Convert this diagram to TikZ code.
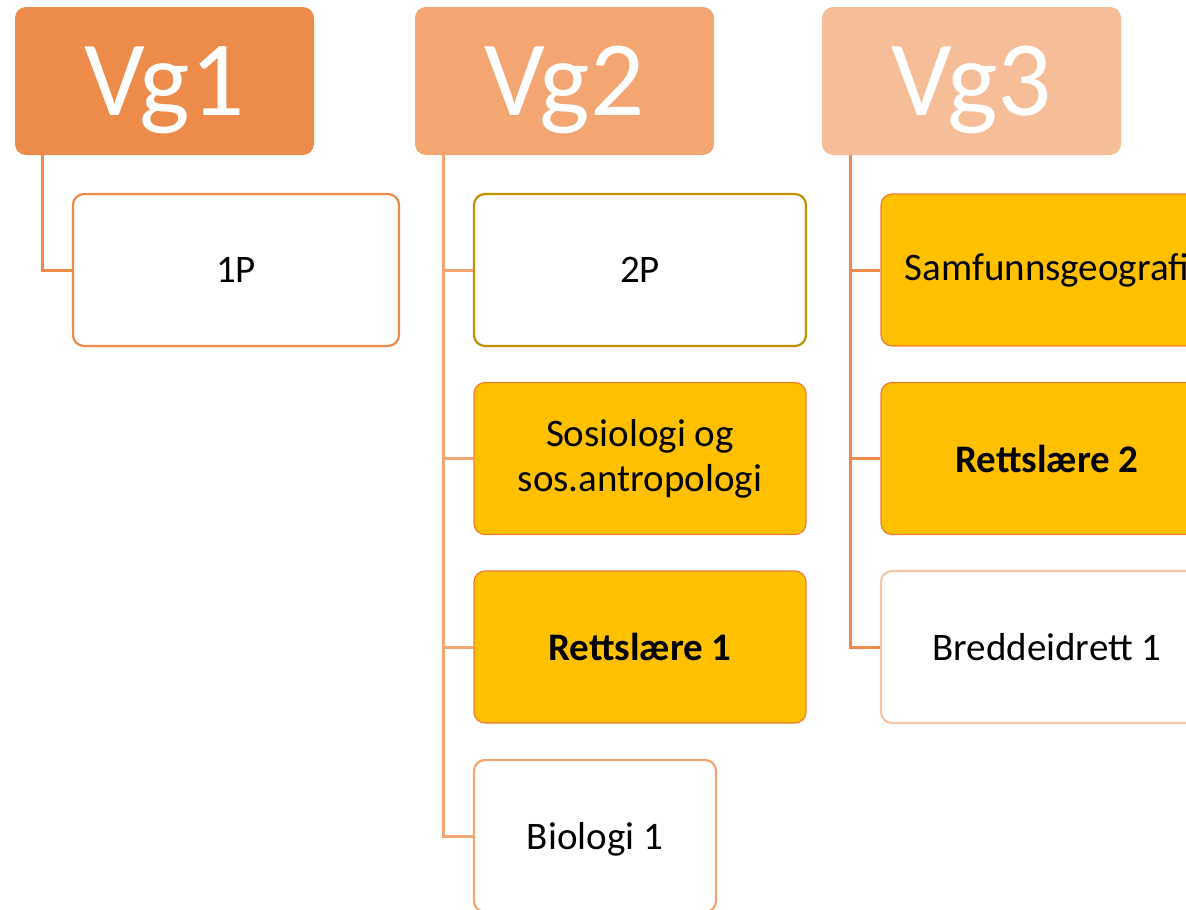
\documentclass[tikz,border=0pt]{standalone}
\usepackage{fontspec}
\setmainfont{Carlito}
\usepackage{xcolor}
\usetikzlibrary{positioning}
\definecolor{vgen}{HTML}{ED8B4A}
\definecolor{vgto}{HTML}{F3A572}
\definecolor{vgtre}{HTML}{F5BE98}
\definecolor{gul}{HTML}{FFC000}
\definecolor{gullkant}{HTML}{BF9000}
\definecolor{oransje}{HTML}{ED7D31}
\definecolor{fersken}{HTML}{F7C6A4}

\begin{document}
\begin{tikzpicture}[x=1pt, y=-1pt,
			vg/.style={rectangle, rounded corners=11pt, fill=#1, text=white,
				minimum width=299pt, minimum height=148pt, inner sep=0pt,
				text depth=0pt, font=\fontsize{107}{112}\selectfont},
			fag/.style={rectangle, rounded corners=11pt, draw=#1, line width=2.2pt,
				fill=white, minimum width=332pt, minimum height=152pt, inner sep=0pt,
				align=center, font=\fontsize{39}{45}\selectfont},
			gulfag/.style={fag=oransje, fill=gul, line width=1.2pt},
			linje/.style={draw=#1, line width=3pt}]
			
			\clip (0,0) rectangle (1186,910);
			
			% Overskrifter
			\node[vg=vgen] (vg1) at (164.5,81) {Vg1};
			\node[vg=vgto] (vg2) at (564.5,81) {Vg2};
			\node[vg=vgtre] (vg3) at (971.5,81) {Vg3};
			
			% --- Vg1 ---
			\node[fag=vgen, minimum width=326pt] (p1) at (236,270) {1P};
			
			% --- Vg2 ---
			\node[fag=gullkant] (p2) at (640,270) {2P};
			\node[gulfag] (sos) at (640,458.5) {Sosiologi og\\sos.antropologi};
			\node[gulfag, font=\fontsize{39}{45}\selectfont\bfseries] (rett1) at (640,647) {Rettslære 1};
			\node[fag=vgto, minimum width=242pt, text depth=0pt] (bio) at (595,836) {Biologi 1};
			
			% --- Vg3 ---
			\node[gulfag] (samf) at (1047,270) {Samfunnsgeografi};
			\node[gulfag, font=\fontsize{39}{45}\selectfont\bfseries] (rett2) at (1047,458.5) {Rettslære 2};
			\node[fag=fersken] (bredde) at (1047,647) {Breddeidrett 1};
			
			% Linjer
			\draw[linje=vgen] ([xshift=28pt]vg1.south west) |- (p1.west);
			
			\draw[linje=vgto] ([xshift=29pt]vg2.south west) |- (p2.west);
			\draw[linje=vgto] ([xshift=29pt]vg2.south west) |- (sos.west);
			\draw[linje=vgto] ([xshift=29pt]vg2.south west) |- (rett1.west);
			\draw[linje=vgto] ([xshift=29pt]vg2.south west) |- (bio.west);
			
			\draw[linje=vgen] ([xshift=29pt]vg3.south west) |- (samf.west);
			\draw[linje=vgen] ([xshift=29pt]vg3.south west) |- (rett2.west);
			\draw[linje=vgen] ([xshift=29pt]vg3.south west) |- (bredde.west);
			
		\end{tikzpicture}
\end{document}
